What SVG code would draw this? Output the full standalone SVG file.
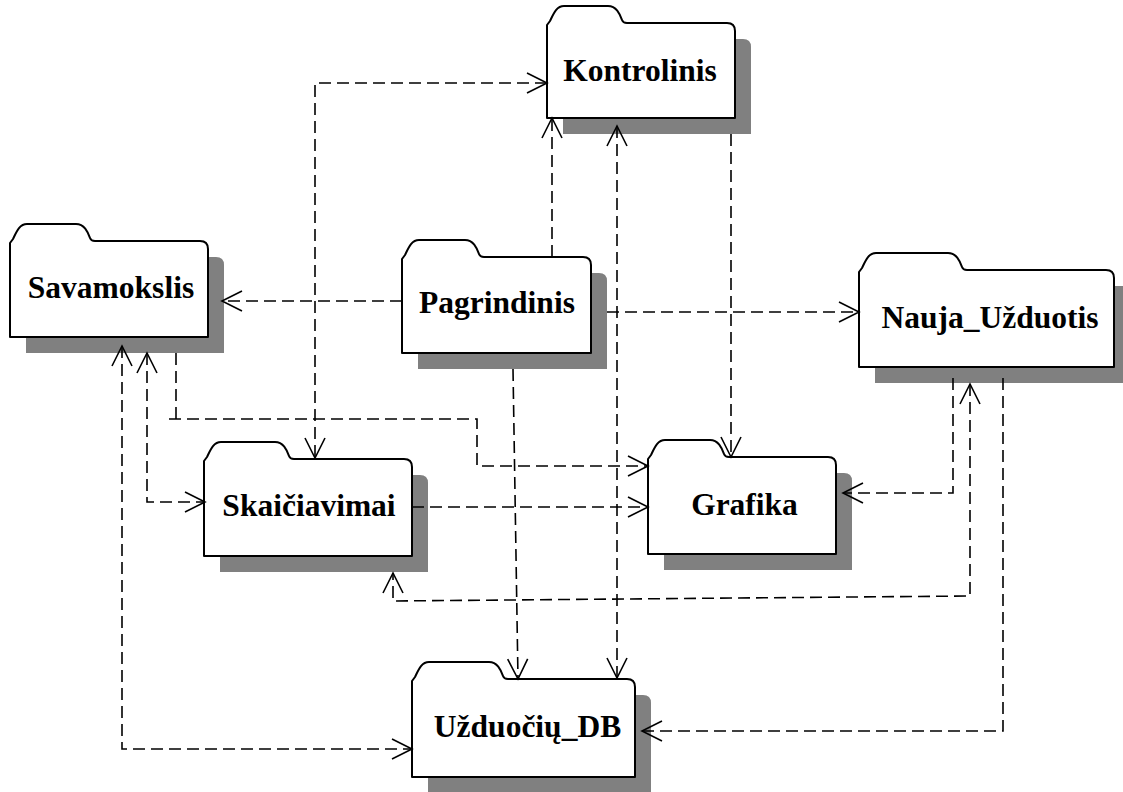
<svg xmlns="http://www.w3.org/2000/svg" width="1123" height="792" viewBox="0 0 1123 792">
  <style>
    .shadow { fill: #808080; stroke: none; }
    .folder { fill: #ffffff; stroke: #000000; stroke-width: 2; stroke-linejoin: round; }
    .label { font-family: "Liberation Serif", "Times New Roman", serif; font-weight: bold; font-size: 31.5px; fill: #000000; text-anchor: middle; }
    .dep { fill: none; stroke: #000000; stroke-width: 1.6; stroke-dasharray: 12 6; }
    .one { marker-end: url(#open); }
    .two { marker-start: url(#open); marker-end: url(#open); }
  </style>
  <defs>
    <marker id="open" markerUnits="userSpaceOnUse" markerWidth="30" markerHeight="30" refX="0" refY="0" orient="auto-start-reverse" overflow="visible">
      <path d="M-20,-10 L0,0 L-20,10" fill="none" stroke="#000000" stroke-width="1.6" stroke-dasharray="none"/>
    </marker>
  </defs>

  <rect width="1123" height="792" fill="#ffffff"/>

  <!-- packages -->
  <g id="kontrolinis" transform="translate(547,23)">
    <path class="shadow" d="M16,16 H196 Q204,16 204,24 V111 H16 Z"/>
    <path class="folder" d="M0,2 L3,-2 C6,-8 9,-17 17,-17 H61 C70,-17 73,-8 75,-3 Q76,0 80,0 H180 Q188,0 188,8 V95 H0 Z"/>
    <text class="label" x="93" y="58">Kontrolinis</text>
  </g>

  <g id="savamokslis" transform="translate(10,241)">
    <path class="shadow" d="M16,16 H206 Q214,16 214,24 V112 H16 Z"/>
    <path class="folder" d="M0,2 L3,-2 C6,-8 9,-17 17,-17 H66 C75,-17 78,-8 80,-3 Q81,0 85,0 H190 Q198,0 198,8 V96 H0 Z"/>
    <text class="label" x="101" y="57">Savamokslis</text>
  </g>

  <g id="pagrindinis" transform="translate(402,257)">
    <path class="shadow" d="M16,16 H197 Q205,16 205,24 V112 H16 Z"/>
    <path class="folder" d="M0,2 L3,-2 C6,-8 9,-17 17,-17 H63 C72,-17 75,-8 77,-3 Q78,0 82,0 H181 Q189,0 189,8 V96 H0 Z"/>
    <text class="label" x="95" y="56">Pagrindinis</text>
  </g>

  <g id="nauja-uzduotis" transform="translate(859,270)">
    <path class="shadow" d="M16,16 H263 Q271,16 271,24 V113 H16 Z"/>
    <path class="folder" d="M0,2 L3,-2 C6,-8 9,-17 17,-17 H89 C98,-17 101,-8 103,-3 Q104,0 108,0 H247 Q255,0 255,8 V97 H0 Z"/>
    <text class="label" x="131" y="58">Nauja_Užduotis</text>
  </g>

  <g id="skaiciavimai" transform="translate(204,459)">
    <path class="shadow" d="M16,16 H216 Q224,16 224,24 V113 H16 Z"/>
    <path class="folder" d="M0,2 L3,-2 C6,-8 9,-17 17,-17 H71 C80,-17 83,-8 85,-3 Q86,0 90,0 H200 Q208,0 208,8 V97 H0 Z"/>
    <text class="label" x="105" y="57">Skaičiavimai</text>
  </g>

  <g id="grafika" transform="translate(648,457)">
    <path class="shadow" d="M16,16 H196 Q204,16 204,24 V113 H16 Z"/>
    <path class="folder" d="M0,2 L3,-2 C6,-8 9,-17 17,-17 H62 C71,-17 74,-8 76,-3 Q77,0 81,0 H180 Q188,0 188,8 V97 H0 Z"/>
    <text class="label" x="96.5" y="58">Grafika</text>
  </g>

  <g id="uzduociu-db" transform="translate(412,679)">
    <path class="shadow" d="M16,16 H231 Q239,16 239,24 V114 H16 Z"/>
    <path class="folder" d="M0,2 L3,-2 C6,-8 9,-17 17,-17 H77 C86,-17 89,-8 91,-3 Q92,0 96,0 H215 Q223,0 223,8 V98 H0 Z"/>
    <text class="label" x="115.5" y="58">Užduočių_DB</text>
  </g>

  <!-- dependencies -->
  <g id="connectors">
    <path class="dep one" d="M552,257 V118"/>
    <path class="dep two" d="M617,126 V678"/>
    <path class="dep one" d="M513,369 L518,679"/>
    <path class="dep one" d="M731,134 V457"/>
    <path class="dep two" d="M547,83 H315 V458"/>
    <path class="dep one" d="M402,301 H222"/>
    <path class="dep one" d="M607,312 H859"/>
    <path class="dep one" d="M176,353 V419 M169,419 H477 V466 H648"/>
    <path class="dep one" d="M412,507 H648"/>
    <path class="dep two" d="M147,353 V502 H205"/>
    <path class="dep two" d="M122,346 V749 H412"/>
    <path class="dep one" d="M953,378 V493 H843"/>
    <path class="dep two" d="M970,384 V596 L393,601 V573"/>
    <path class="dep one" d="M1003,378 V731 H642"/>
  </g>
</svg>
